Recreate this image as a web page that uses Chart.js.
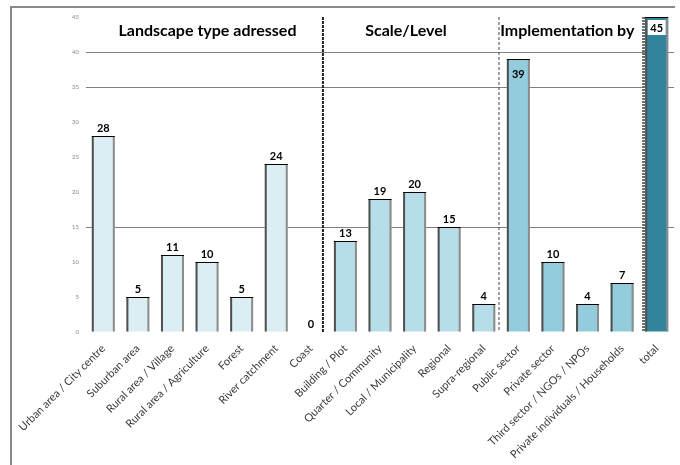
<!DOCTYPE html>
<html lang="en">
<head>
<meta charset="UTF-8">
<title>Landscape projects</title>
<script src="https://cdn.jsdelivr.net/npm/chart.js"></script>
<style>
    html, body { margin: 0; padding: 0; background: #ffffff; }
    .wrap { width: 680px; height: 465px; position: relative; }
</style>
</head>
<body>
<div class="wrap"><canvas id="chart"></canvas></div>
<script>
    // Categories and counts
    const categories = [
        "Urban area / City centre", "Suburban area", "Rural area / Village", "Rural area / Agriculture",
        "Forest", "River catchment", "Coast",
        "Building / Plot", "Quarter / Community", "Local / Municipality", "Regional", "Supra-regional",
        "Public sector", "Private sector", "Third sector / NGOs / NPOs", "Private individuals / Households",
        "total"
    ];
    const counts = [28, 5, 11, 10, 5, 24, 0, 13, 19, 20, 15, 4, 39, 10, 4, 7, 45];
    const groupOf = [0, 0, 0, 0, 0, 0, 0, 1, 1, 1, 1, 1, 2, 2, 2, 2, 3];
    const groupTitles = ["Landscape type adressed", "Scale/Level", "Implementation by"];
    const groupColors = ["#daeef3", "#b7dee8", "#93cddd", "#31849b"];
    const yTicks = [0, 5, 10, 15, 20, 25, 30, 35, 40, 45];
    const gridAt = [15, 35, 40];

    // dashed separators: after which category, small nudge (fraction of a category)
    const dividers = [
        { after: 6, nudge: -0.15, color: "#222", width: 2, dash: [3, 1] },
        { after: 11, nudge: -0.06, color: "#444", width: 1, dash: [3, 2] },
        { after: 15, nudge: 0.12, color: "#6a6a6a", width: 3, dash: [2, 1] }
    ];
    const titleNudge = [3, -5, -4];

    Chart.defaults.font.family = "Lato";

    const decorations = {
        id: "decorations",
        beforeDraw(chart) {
            const c = chart.ctx;
            c.save();
            c.fillStyle = "#fff";
            c.fillRect(0, 0, chart.width, chart.height);
            c.strokeStyle = "#8a8a8a";
            c.lineWidth = 2;
            c.beginPath();
            c.moveTo(10, 7); c.lineTo(675, 7);
            c.moveTo(11, 6); c.lineTo(11, chart.height);
            c.stroke();
            c.restore();
        },
        afterDatasetsDraw(chart) {
            const c = chart.ctx;
            const xs = chart.scales.x;
            const area = chart.chartArea;
            const meta = chart.getDatasetMeta(0);

            // bar edges
            c.save();
            meta.data.forEach((bar, i) => {
                if (counts[i] === 0) return;
                const l = bar.x - bar.width / 2, r = bar.x + bar.width / 2;
                c.fillStyle = "#505050";
                c.fillRect(l, bar.y, 2, bar.base - bar.y);
                c.fillStyle = "#8c8c8c";
                c.fillRect(r - 2, bar.y, 2, bar.base - bar.y);
                c.fillStyle = "#000";
                c.fillRect(l, bar.y, bar.width, 1);
            });
            c.restore();

            // dashed separators
            const step = xs.getPixelForValue(1) - xs.getPixelForValue(0);
            const divX = dividers.map(d => xs.getPixelForValue(d.after) + step * (0.5 + d.nudge));
            c.save();
            dividers.forEach((d, k) => {
                c.strokeStyle = d.color;
                c.lineWidth = d.width;
                c.setLineDash(d.dash);
                c.beginPath();
                c.moveTo(divX[k], area.top);
                c.lineTo(divX[k], area.bottom);
                c.stroke();
            });
            c.restore();

            // group titles
            c.save();
            c.font = "bold 16px Lato";
            c.fillStyle = "#000";
            c.textAlign = "center";
            c.textBaseline = "middle";
            const edges = [area.left].concat(divX);
            groupTitles.forEach((t, k) => {
                c.fillText(t, (edges[k] + edges[k + 1]) / 2 + titleNudge[k], 31);
            });
            c.restore();

            // value labels
            c.save();
            c.font = "bold 11px Lato";
            c.textAlign = "center";
            c.textBaseline = "middle";
            meta.data.forEach((bar, i) => {
                const v = counts[i];
                if (groupOf[i] === 3) {
                    c.fillStyle = "#fff";
                    c.fillRect(bar.x - 9, bar.y + 3, 18, 15);
                    c.fillStyle = "#000";
                    c.fillText(v, bar.x, bar.y + 11);
                } else if (v > 35) {
                    c.fillStyle = "#000";
                    c.fillText(v, bar.x, bar.y + 15);
                } else {
                    c.fillStyle = "#000";
                    c.fillText(v, bar.x, bar.y - 8);
                }
            });
            c.restore();
        }
    };

    new Chart(document.getElementById("chart"), {
        type: "bar",
        data: {
            labels: categories,
            datasets: [{
                data: counts,
                backgroundColor: counts.map((v, i) => groupColors[groupOf[i]]),
                borderWidth: 0,
                categoryPercentage: 1,
                barPercentage: 0.665
            }]
        },
        options: {
            responsive: true,
            maintainAspectRatio: false,
            animation: false,
            layout: { padding: { top: 17, right: 6, left: 0, bottom: 0 } },
            plugins: {
                legend: { display: false },
                tooltip: { enabled: false }
            },
            scales: {
                x: {
                    grid: { display: false, drawTicks: false },
                    border: { display: false },
                    ticks: {
                        autoSkip: false,
                        maxRotation: 45,
                        minRotation: 45,
                        padding: 10,
                        color: "#3a3a3a",
                        font: { size: 11 }
                    },
                    afterFit(scale) {
                        scale.height = 133;
                        scale.paddingLeft = 0;
                        scale.paddingRight = 0;
                    }
                },
                y: {
                    min: 0,
                    max: 45,
                    afterBuildTicks(scale) {
                        scale.ticks = yTicks.map(v => ({ value: v }));
                    },
                    grid: {
                        drawTicks: false,
                        color: ctx => gridAt.includes(ctx.tick.value) ? "#808080" : "rgba(0,0,0,0)"
                    },
                    border: { display: false },
                    ticks: {
                        padding: 7,
                        color: "#888",
                        font: { size: 6 }
                    },
                    afterFit(scale) {
                        scale.width = 86;
                        scale.paddingTop = 0;
                        scale.paddingBottom = 0;
                    }
                }
            }
        },
        plugins: [decorations]
    });
</script>
</body>
</html>
